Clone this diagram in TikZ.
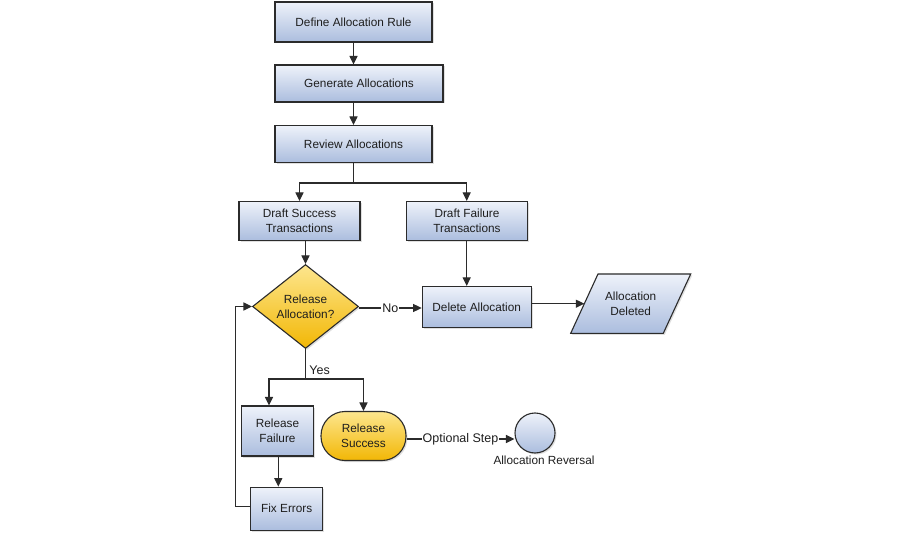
\documentclass[tikz,border=0pt]{standalone}
\usepackage{fontspec}
\setmainfont{Liberation Sans}
\usetikzlibrary{shapes.geometric,shadows,arrows.meta}
\definecolor{boxtop}{HTML}{EEF2FA}
\definecolor{boxbot}{HTML}{ABBDDE}
\definecolor{yeltop}{HTML}{FDE68E}
\definecolor{yelbot}{HTML}{F2B705}
\definecolor{edge}{HTML}{2B2B2B}
\definecolor{txt}{HTML}{1E1E1E}
\tikzset{
  base/.style={draw=edge, line width=1.1pt, text=txt, align=center,
    font=\fontsize{11.8}{15}\selectfont, inner sep=1pt,
    drop shadow={shadow xshift=1.5pt, shadow yshift=-1.5pt, opacity=0.25}},
  stepbox/.style={base, rectangle, top color=boxtop, bottom color=boxbot},
  decision/.style={base, diamond, top color=yeltop, bottom color=yelbot},
  terminal/.style={base, rectangle, rounded corners=24pt, top color=yeltop, bottom color=yelbot},
  endcircle/.style={base, circle, top color=boxtop, bottom color=boxbot},
  plaintext/.style={text=txt, align=center, font=\fontsize{11.8}{15}\selectfont, inner sep=1pt},
  lbl/.style={text=txt, font=\fontsize{12.5}{15}\selectfont, fill=white, inner sep=1pt},
  arr/.style={draw=edge, line width=1.1pt, -{Triangle[length=8.5pt,width=8pt]}},
  ln/.style={draw=edge, line width=1.1pt}
}
\begin{document}
\begin{tikzpicture}[x=1pt,y=-1pt]
\useasboundingbox[fill=white] (0,0) rectangle (900,540);

\node[stepbox, minimum width=157pt, minimum height=40pt] (d1) at (353.5,22) {Define Allocation Rule};
\node[stepbox, minimum width=168pt, minimum height=37pt] (gen) at (359,83.5) {Generate Allocations};
\node[stepbox, minimum width=157pt, minimum height=37pt] (rev) at (353.5,144) {Review Allocations};
\node[stepbox, minimum width=121pt, minimum height=39pt] (ds) at (299.5,221) {Draft Success\\Transactions};
\node[stepbox, minimum width=121pt, minimum height=39pt] (df) at (467,221) {Draft Failure\\Transactions};
\node[decision, minimum width=106pt, minimum height=84pt, inner sep=0pt] (dia) at (305.5,306.5) {};
\node[plaintext] (diatext) at (dia.center) {Release\\Allocation?};
\node[stepbox, minimum width=109pt, minimum height=41pt] (del) at (476.7,307) {Delete Allocation};

% parallelogram
\draw[draw=edge, line width=1.1pt, top color=boxtop, bottom color=boxbot,
  drop shadow={shadow xshift=1.5pt, shadow yshift=-1.5pt, opacity=0.25}]
  (570.7,333.3) -- (598,274) -- (690.7,274) -- (663.3,333.3) -- cycle;
\node[plaintext] (adel) at (630.7,303.7) {Allocation\\Deleted};
\coordinate (adelL) at (584.3,303.7);

\node[stepbox, minimum width=72pt, minimum height=50pt] (rf) at (277.5,431) {Release\\Failure};
\node[terminal, minimum width=85pt, minimum height=49pt] (rs) at (363.5,436) {Release\\Success};
\node[endcircle, minimum size=40pt, inner sep=0pt] (circ) at (535,433) {};
\node[plaintext] (revl) at (544,460) {Allocation Reversal};
\node[stepbox, minimum width=72pt, minimum height=43pt] (fe) at (286.7,508.7) {Fix Errors};

% connectors
\draw[arr] (d1.south) -- (d1.south |- gen.north);
\draw[arr] (rev.north |- gen.south) -- (rev.north);
\coordinate (sp1) at (353.5,183);
\draw[ln] (rev.south) -- (sp1);
\draw[arr] (sp1) -| (ds.north);
\draw[arr] (sp1) -| ([xshift=-0.3pt]df.north);
\draw[arr] (dia.north |- ds.south) -- (dia.north);
\draw[arr] ([xshift=-0.3pt]df.south) -- ([xshift=-0.3pt]df.south |- del.north);
\draw[arr] ([yshift=-1.5pt]dia.east) -- node[lbl]{No} ([yshift=-1.5pt]dia.east -| del.west);
\draw[arr] (del.east |- adelL) -- (adelL);
\coordinate (sp2) at (305.5,379);
\draw[ln] (dia.south) -- node[pos=0.72, right, text=txt, font=\fontsize{12.5}{15}\selectfont]{Yes} (sp2);
\draw[arr] (sp2) -| ([xshift=-8.5pt]rf.north);
\draw[arr] (sp2) -| (rs.north);
\draw[arr] ([xshift=0.8pt]rf.south) -- ([xshift=0.8pt]rf.south |- fe.north);
\draw[arr] ([yshift=2pt]fe.west) -- ++(-15,0) |- (dia.west);
\draw[arr] ([yshift=-3pt]rs.east) -- node[lbl]{Optional Step} ([yshift=-3pt]rs.east -| circ.west);
\end{tikzpicture}
\end{document}
